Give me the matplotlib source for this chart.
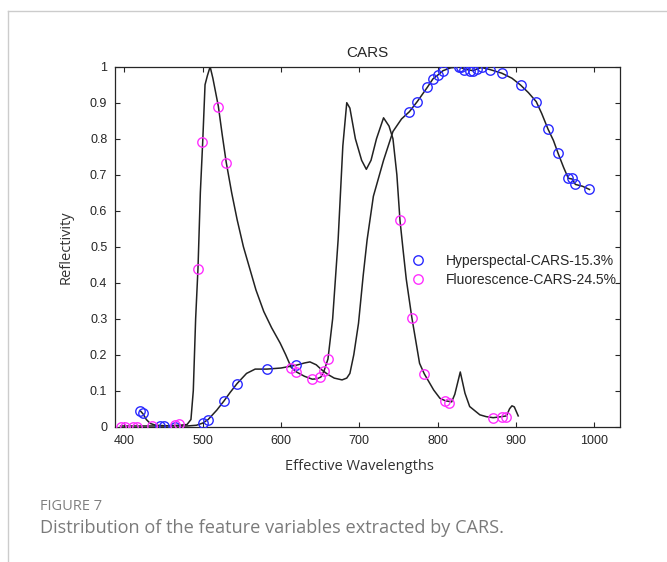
import matplotlib
matplotlib.use("Agg")
import matplotlib.pyplot as plt
from matplotlib.lines import Line2D

# ---------------- data ----------------
hyper_wl = [420, 424, 428, 433, 440, 450, 465, 480, 492, 500, 507, 518, 527, 535,
            544, 556, 567, 582, 600, 610, 620, 630, 637, 645, 652, 660, 668, 678,
            684, 688, 693, 699, 705, 710, 718, 731, 743, 754, 764, 774, 787, 794,
            801, 807, 817, 828, 835, 845, 856, 867, 882, 895, 906, 916, 926, 933,
            941, 948, 954, 961, 967, 972, 976, 985, 994]
hyper_curve = [0.045, 0.035, 0.02, 0.009, 0.004, 0.003, 0.002, 0.002, 0.004, 0.01,
               0.02, 0.046, 0.071, 0.095, 0.12, 0.148, 0.16, 0.16, 0.163, 0.167,
               0.171, 0.177, 0.18, 0.172, 0.158, 0.145, 0.135, 0.13, 0.135, 0.148,
               0.2, 0.287, 0.42, 0.519, 0.64, 0.74, 0.82, 0.855, 0.875, 0.903,
               0.943, 0.966, 0.978, 0.989, 0.997, 0.999, 0.993, 0.989, 0.998, 0.992,
               0.982, 0.968, 0.949, 0.928, 0.903, 0.87, 0.827, 0.795, 0.759, 0.72,
               0.69, 0.688, 0.673, 0.668, 0.659]

fluo_wl = [395, 410, 430, 450, 470, 480, 485, 488, 491, 494, 497, 500, 503, 506,
           509.5, 513, 520, 525, 530, 537, 544, 552, 560, 568, 578, 588, 599, 606,
           613, 619, 630, 640, 646, 651, 655, 660, 666, 673, 679, 684, 688, 695,
           703, 709, 715, 722, 731, 738, 743, 748, 752, 756, 760, 767, 777, 783,
           795, 803, 810, 818, 822, 829, 835, 841, 854, 862, 871, 882, 888, 892,
           895, 898, 903]
fluo_curve = [0.002, 0.002, 0.002, 0.002, 0.004, 0.006, 0.02, 0.1, 0.3, 0.44, 0.65,
              0.79, 0.95, 0.975, 1.0, 0.968, 0.89, 0.81, 0.735, 0.65, 0.575, 0.5,
              0.44, 0.38, 0.32, 0.275, 0.232, 0.2, 0.165, 0.153, 0.14, 0.132, 0.133,
              0.138, 0.155, 0.188, 0.3, 0.52, 0.78, 0.9, 0.885, 0.8, 0.74, 0.715,
              0.74, 0.8, 0.858, 0.835, 0.8, 0.7, 0.573, 0.49, 0.41, 0.305, 0.176,
              0.147, 0.102, 0.079, 0.072, 0.069, 0.09, 0.152, 0.093, 0.056, 0.033,
              0.028, 0.025, 0.028, 0.03, 0.05, 0.058, 0.055, 0.03]

hyper_pts_x = [420, 423.5, 445.6, 451, 464.8, 500.9, 507.3, 527.3, 544.3, 581.9,
               619.3, 763.6, 774.2, 787, 794, 801, 806.6, 827, 829.6, 833.5, 841.5,
               845.7, 850, 856.4, 867, 882, 906.3, 925.8, 940.7, 954.3, 967, 972,
               976, 993.9]
hyper_pts_y = [0.044, 0.037, 0.003, 0.003, 0.0, 0.011, 0.019, 0.071, 0.12, 0.159,
               0.171, 0.875, 0.903, 0.943, 0.966, 0.978, 0.987, 0.998, 1.0, 0.992,
               0.989, 0.987, 0.994, 1.0, 0.99, 0.982, 0.949, 0.903, 0.827, 0.759,
               0.69, 0.69, 0.673, 0.659]

fluo_pts_x = [395.4, 400.9, 410.7, 415.8, 435, 464.8, 469.8, 493.7, 499.6, 519.3,
              529.5, 612.9, 619.3, 639.7, 650, 655, 660.6, 752, 767.5, 783, 809,
              814, 871, 882, 888]
fluo_pts_y = [0.0, 0.0, 0.0, 0.0, 0.002, 0.005, 0.007, 0.438, 0.792, 0.887, 0.732,
              0.162, 0.153, 0.132, 0.137, 0.155, 0.188, 0.573, 0.303, 0.147, 0.072,
              0.067, 0.025, 0.028, 0.028]

x_ticks = [400, 500, 600, 700, 800, 900, 1000]
y_ticks = [0, 0.1, 0.2, 0.3, 0.4, 0.5, 0.6, 0.7, 0.8, 0.9, 1]
y_ticklabels = ["0", "0.1", "0.2", "0.3", "0.4", "0.5", "0.6", "0.7", "0.8", "0.9", "1"]
legend_labels = ["Hyperspectal-CARS-15.3%", "Fluorescence-CARS-24.5%"]

# ---------------- figure ----------------
W, H = 667, 562
fig = plt.figure(figsize=(W / 100, H / 100), dpi=100)
fig.patch.set_facecolor("white")

L, R, T, B = 115, 620, 66.7, 426.7
ax = fig.add_axes([L / W, 1 - B / H, (R - L) / W, (B - T) / H])

axis_font = "Liberation Sans"
label_font = "Open Sans"

ax.plot(hyper_wl, hyper_curve, color="#222222", lw=1.1, zorder=2)
ax.plot(fluo_wl, fluo_curve, color="#222222", lw=1.1, zorder=2)
h1, = ax.plot(hyper_pts_x, hyper_pts_y, "o", mfc="none", mec="#2a2aff", ms=6.8,
              mew=1.0, zorder=3, label=legend_labels[0])
h2, = ax.plot(fluo_pts_x, fluo_pts_y, "o", mfc="none", mec="#ff30ff", ms=6.8,
              mew=1.0, zorder=3, label=legend_labels[1])

ax.set_xlim(388, 1033)
ax.set_ylim(0, 1)
ax.set_xticks(x_ticks)
ax.set_yticks(y_ticks)
ax.set_yticklabels(y_ticklabels)
ax.tick_params(direction="in", length=3.5, width=0.8, colors="#262626",
               top=True, right=True, labelsize=9)
ax.tick_params(axis="x", pad=6)
ax.tick_params(axis="y", pad=5.5)
for lab in ax.get_xticklabels() + ax.get_yticklabels():
    lab.set_fontfamily(axis_font)
for s in ax.spines.values():
    s.set_color("#262626")
    s.set_linewidth(0.9)

ax.text(0.5, (B - 53) / (B - T), "CARS", transform=ax.transAxes, ha="center",
        va="center", fontsize=11, family=axis_font, color="#262626")

ax.set_xlabel("Effective Wavelengths", family=label_font, fontsize=10.5, color="#333333")
ax.xaxis.set_label_coords((359 - L) / (R - L), (B - 467) / (B - T))
ax.xaxis.label.set_va("center")
ax.set_ylabel("Reflectivity", family=label_font, fontsize=10.5, color="#333333")
ax.yaxis.set_label_coords((66 - L) / (R - L), 0.5)
ax.yaxis.label.set_va("center")

leg = ax.legend(handles=[h1, h2], loc="upper left",
                bbox_to_anchor=(410.8 / W, 1 - 253.5 / H), bbox_transform=fig.transFigure,
                frameon=False, borderpad=0, borderaxespad=0, handlelength=1.0,
                handletextpad=1.53, labelspacing=0.38,
                prop={"family": axis_font, "size": 10})
for t in leg.get_texts():
    t.set_color("#262626")

# article frame lines
fig.add_artist(Line2D([8 / W, 1], [1 - 11 / H, 1 - 11 / H], transform=fig.transFigure,
                      color="#cccccc", lw=1.0))
fig.add_artist(Line2D([8 / W, 8 / W], [0, 1 - 11 / H], transform=fig.transFigure,
                      color="#cccccc", lw=1.0))

fig.text(40 / W, 1 - 506 / H, "FIGURE 7", family=label_font, fontsize=10.5,
         color="#808080", va="center", ha="left")
fig.text(40 / W, 1 - 528 / H, "Distribution of the feature variables extracted by CARS.",
         family=label_font, fontsize=13.1, color="#7a7a7a", va="center", ha="left")

fig.savefig("out.png", dpi=100)
